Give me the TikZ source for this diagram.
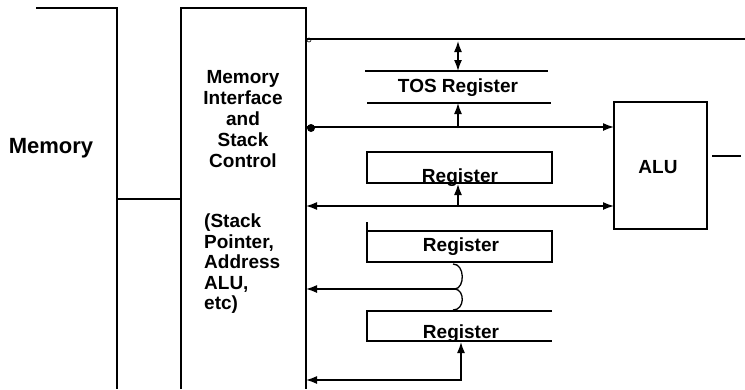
\documentclass[tikz,border=0pt]{standalone}
\usepackage{fontspec}
\setmainfont{Liberation Sans}
\usetikzlibrary{arrows.meta}

\begin{document}
\begin{tikzpicture}[
	x=1pt, y=-1pt,
	>={Latex[length=11pt,width=8pt]},
	wire/.style={line width=1.6pt},
	busline/.style={line width=1.5pt},
	boxtext/.style={font=\bfseries\fontsize{19}{21}\selectfont, inner sep=0pt},
]
\useasboundingbox (0,0) rectangle (745,389);

\pgfmathsetmacro{\ifL}{181}
\pgfmathsetmacro{\ifR}{306}
\pgfmathsetmacro{\regL}{367}
\pgfmathsetmacro{\regR}{552}
\pgfmathsetmacro{\aluL}{614}
\pgfmathsetmacro{\aluR}{707}

% memory and interface outlines
\draw[wire] (36,8) -- (117,8) -- (117,389);
\draw[wire] (\ifL,389) -- (\ifL,8) -- (\ifR,8) -- (\ifR,389);
\coordinate (memport) at (117,199);
\coordinate (ifport) at (\ifL,199);
\draw[wire] (memport) -- (ifport);

\node[boxtext, font=\bfseries\fontsize{22}{24}\selectfont] (mem) at (51,148) {Memory};
\node[boxtext, align=center] (iface) at (243,119)
	{Memory\\Interface\\and\\Stack\\Control};
\node[boxtext, align=left, anchor=north west, font=\bfseries\fontsize{19}{20.5}\selectfont]
	(spinfo) at (204,214) {(Stack\\Pointer,\\Address\\ALU,\\etc)};

% ALU
\draw[wire] (\aluL,102) rectangle (\aluR,229);
\node[boxtext] (alu) at (658,167) {ALU};
\coordinate (aluin1) at (\aluL,127);
\coordinate (aluin2) at (\aluL,206);
\coordinate (aluout) at (712,156);
\coordinate (aluend) at (741,156);
\draw[line width=2.6pt] (aluout) -- (aluend);

% TOS register (top and bottom only)
\draw[wire] (365,71) -- (548,71);
\draw[wire] (367,103) -- (551,103);
\node[boxtext] (tos) at (458,88) {TOS Register};

% registers
\draw[wire] (\regL,152) rectangle (\regR,183);
\node[boxtext] (reg1) at (460,178) {Register};
\draw[wire] (\regL,231) rectangle (\regR,262);
\draw[wire] (\regL,222) -- (\regL,256);
\node[boxtext] (reg2) at (461,247) {Register};
\draw[wire] (\regR,311) -- (\regL,311) -- (\regL,341) -- (\regR,341);
\node[boxtext] (reg3) at (461,334) {Register};

% buses
\coordinate (bus1s) at (\ifR,39);
\coordinate (bus1e) at (745,39);
\draw[busline] (bus1s) -- (bus1e);
\draw[line width=0.6pt] (309,40) circle (2);

\coordinate (bus2s) at (\ifR,127);
\draw[busline, ->] (bus2s) -- (aluin1);
\fill (311,128) circle (4);

\coordinate (bus3s) at (\ifR,206);
\draw[busline, <->] (bus3s) -- (aluin2);

% register taps
\coordinate (tostop) at (458,71);
\coordinate (tosbot) at (458,103);
\draw[busline, <->] (458,41) -- (tostop);
\draw[busline, ->] (458,128) -- (tosbot);
\draw[busline, ->] (458,206) -- (458,184);

% curly tap from reg2 and reg3
\coordinate (cusp) at (455,289);
\draw[line width=1.3pt] (453,264) .. controls (465,264) and (465,288) .. (cusp)
	.. controls (465,290) and (465,310) .. (453,310);
\draw[busline, ->] (cusp) -- (\ifR,289);

% bottom return
\coordinate (reg3bot) at (461,342);
\draw[busline, <->] (reg3bot) |- (\ifR,380);

\end{tikzpicture}
\end{document}
